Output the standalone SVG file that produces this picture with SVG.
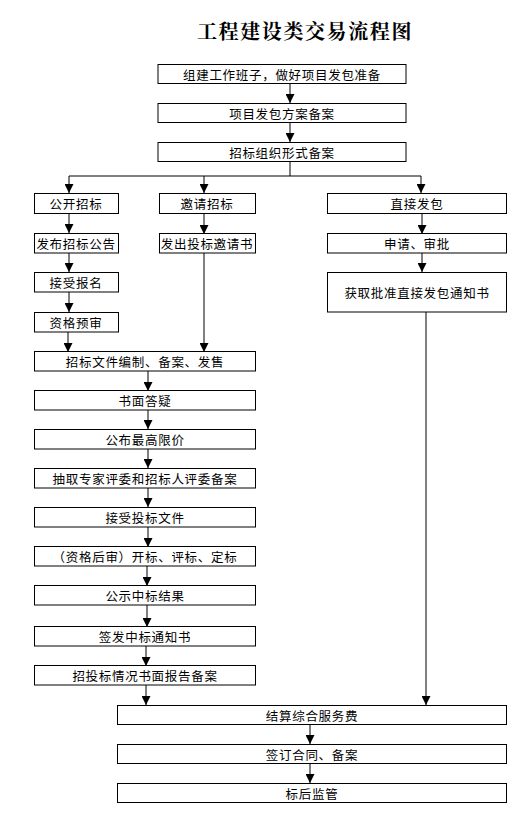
<svg xmlns="http://www.w3.org/2000/svg" width="527" height="840" viewBox="0 0 527 840">
<style>
.b{fill:#fff;stroke:#000;stroke-width:1}
.t{font-family:"Noto Sans CJK SC",sans-serif;font-size:12.5px;letter-spacing:0.7px;text-anchor:middle;dominant-baseline:central;fill:#000}
.ti{font-family:"Noto Serif CJK SC","Noto Sans CJK SC",serif;font-size:20px;font-weight:bold;letter-spacing:1.6px;text-anchor:middle;fill:#000}
.c{fill:none;stroke:#000;stroke-width:1}
</style>
<defs>
<marker id="a" markerUnits="userSpaceOnUse" markerWidth="9" markerHeight="9" viewBox="0 0 9 9" refX="9" refY="4.5" orient="auto">
<path d="M0,0 L9,4.5 L0,9 Z" fill="#000"/>
</marker>
</defs>
<rect width="527" height="840" fill="#fff"/>
<text class="ti" x="305" y="39">工程建设类交易流程图</text>
<g id="connectors">
<line class="c" x1="290" y1="84" x2="290" y2="103" marker-end="url(#a)"/>
<line class="c" x1="290" y1="122" x2="290" y2="142" marker-end="url(#a)"/>
<polyline class="c" points="290,161 290,176"/>
<line class="c" x1="69" y1="176" x2="421" y2="176"/>
<line class="c" x1="69" y1="176" x2="69" y2="193" marker-end="url(#a)"/>
<line class="c" x1="204" y1="176" x2="204" y2="193" marker-end="url(#a)"/>
<line class="c" x1="421" y1="176" x2="421" y2="193" marker-end="url(#a)"/>
<line class="c" x1="69" y1="214" x2="69" y2="233" marker-end="url(#a)"/>
<line class="c" x1="69" y1="253" x2="69" y2="272" marker-end="url(#a)"/>
<line class="c" x1="69" y1="292" x2="69" y2="312" marker-end="url(#a)"/>
<line class="c" x1="68" y1="332" x2="68" y2="352" marker-end="url(#a)"/>
<line class="c" x1="204" y1="214" x2="204" y2="234" marker-end="url(#a)"/>
<line class="c" x1="204" y1="253" x2="204" y2="352" marker-end="url(#a)"/>
<line class="c" x1="422" y1="214" x2="422" y2="234" marker-end="url(#a)"/>
<line class="c" x1="422" y1="253" x2="422" y2="272" marker-end="url(#a)"/>
<line class="c" x1="426" y1="312" x2="426" y2="705" marker-end="url(#a)"/>
<line class="c" x1="148" y1="371" x2="148" y2="391" marker-end="url(#a)"/>
<line class="c" x1="148" y1="410" x2="148" y2="429" marker-end="url(#a)"/>
<line class="c" x1="148" y1="449" x2="148" y2="468" marker-end="url(#a)"/>
<line class="c" x1="148" y1="488" x2="148" y2="507" marker-end="url(#a)"/>
<line class="c" x1="148" y1="527" x2="148" y2="547" marker-end="url(#a)"/>
<line class="c" x1="147" y1="566" x2="147" y2="586" marker-end="url(#a)"/>
<line class="c" x1="147" y1="605" x2="147" y2="627" marker-end="url(#a)"/>
<line class="c" x1="146" y1="646" x2="146" y2="666" marker-end="url(#a)"/>
<line class="c" x1="146" y1="685" x2="146" y2="705" marker-end="url(#a)"/>
<line class="c" x1="310" y1="724" x2="310" y2="744" marker-end="url(#a)"/>
<line class="c" x1="310" y1="763" x2="310" y2="783" marker-end="url(#a)"/>
</g>
<g id="n1"><rect class="b" x="158" y="64.5" width="248" height="19"/><text class="t" x="282" y="74">组建工作班子，做好项目发包准备</text></g>
<g id="n2"><rect class="b" x="158" y="103.5" width="248" height="19"/><text class="t" x="282" y="113">项目发包方案备案</text></g>
<g id="n3"><rect class="b" x="158" y="142.5" width="248" height="19"/><text class="t" x="282" y="152">招标组织形式备案</text></g>
<g id="n4"><rect class="b" x="34.5" y="193.5" width="84" height="20"/><text class="t" x="76" y="203.5">公开招标</text></g>
<g id="n5"><rect class="b" x="159.5" y="193.5" width="96" height="20"/><text class="t" x="207" y="203.5">邀请招标</text></g>
<g id="n6"><rect class="b" x="327.5" y="193.5" width="179" height="20"/><text class="t" x="417" y="203.5">直接发包</text></g>
<g id="n7"><rect class="b" x="34.5" y="233.5" width="84" height="19.5"/><text class="t" x="76" y="243.5">发布招标公告</text></g>
<g id="n8"><rect class="b" x="159.5" y="233.5" width="96" height="19.5"/><text class="t" x="207" y="243.5">发出投标邀请书</text></g>
<g id="n9"><rect class="b" x="327.5" y="233.5" width="179" height="19.5"/><text class="t" x="417" y="243.5">申请、审批</text></g>
<g id="n10"><rect class="b" x="34.5" y="272.5" width="84" height="19.5"/><text class="t" x="76" y="282.5">接受报名</text></g>
<g id="n11"><rect class="b" x="327.5" y="272.5" width="179" height="39.5"/><text class="t" x="417" y="292.5">获取批准直接发包通知书</text></g>
<g id="n12"><rect class="b" x="34.5" y="312.5" width="84" height="19.5"/><text class="t" x="76" y="322.5">资格预审</text></g>
<g id="n13"><rect class="b" x="34.5" y="351.5" width="221" height="19.5"/><text class="t" x="145" y="361.5">招标文件编制、备案、发售</text></g>
<g id="n14"><rect class="b" x="34.5" y="390.5" width="221" height="19.5"/><text class="t" x="145" y="400.5">书面答疑</text></g>
<g id="n15"><rect class="b" x="34.5" y="429.5" width="221" height="19.5"/><text class="t" x="145" y="439.5">公布最高限价</text></g>
<g id="n16"><rect class="b" x="34.5" y="468.5" width="221" height="19.5"/><text class="t" x="145" y="478.5">抽取专家评委和招标人评委备案</text></g>
<g id="n17"><rect class="b" x="34.5" y="507.5" width="221" height="19.5"/><text class="t" x="145" y="517.5">接受投标文件</text></g>
<g id="n18"><rect class="b" x="34.5" y="546.5" width="221" height="19.5"/><text class="t" x="145" y="556.5">（资格后审）开标、评标、定标</text></g>
<g id="n19"><rect class="b" x="34.5" y="585.5" width="221" height="19.5"/><text class="t" x="145" y="595.5">公示中标结果</text></g>
<g id="n20"><rect class="b" x="34.5" y="626.5" width="221" height="19.5"/><text class="t" x="145" y="636.5">签发中标通知书</text></g>
<g id="n21"><rect class="b" x="34.5" y="665.5" width="221" height="19.5"/><text class="t" x="145" y="675.5">招投标情况书面报告备案</text></g>
<g id="n22"><rect class="b" x="117.5" y="705.5" width="389" height="19"/><text class="t" x="312" y="715">结算综合服务费</text></g>
<g id="n23"><rect class="b" x="117.5" y="744.5" width="389" height="19"/><text class="t" x="312" y="754">签订合同、备案</text></g>
<g id="n24"><rect class="b" x="117.5" y="783.5" width="389" height="19"/><text class="t" x="312" y="793">标后监管</text></g>
</svg>
